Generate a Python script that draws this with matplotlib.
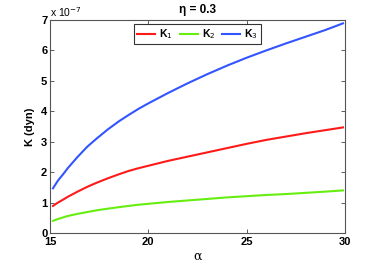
import matplotlib
matplotlib.use('Agg')
import matplotlib.pyplot as plt

# alpha values, K in units of 1e-7 dyn
alpha = [15.15, 15.4, 15.7, 15.9, 16.4, 16.9, 17.4, 17.95, 18.5, 19.0, 19.5,
         20.0, 21.0, 22.0, 23.0, 24.0, 25.0, 26.0, 27.0, 28.0, 29.0, 29.9]
k1 = [0.89, 1.00, 1.11, 1.19, 1.36, 1.52, 1.66, 1.80, 1.93, 2.04, 2.13,
      2.21, 2.37, 2.51, 2.65, 2.79, 2.93, 3.06, 3.17, 3.28, 3.38, 3.47]
k2 = [0.40, 0.46, 0.52, 0.56, 0.63, 0.69, 0.75, 0.80, 0.85, 0.89, 0.93,
      0.96, 1.02, 1.07, 1.12, 1.17, 1.21, 1.25, 1.28, 1.32, 1.36, 1.40]
k3 = [1.47, 1.72, 1.96, 2.13, 2.50, 2.84, 3.12, 3.41, 3.67, 3.88, 4.08,
      4.26, 4.60, 4.92, 5.22, 5.50, 5.76, 6.00, 6.23, 6.45, 6.67, 6.89]

plt.rcParams['font.family'] = ['Liberation Sans', 'DejaVu Sans']

fig = plt.figure(figsize=(3.82, 2.63), dpi=100)
ax = fig.add_axes([0.131, 0.114, 0.772, 0.81])

ax.plot(alpha, k1, color='#ff1a1a', lw=1.5, label='K$_1$')
ax.plot(alpha, k2, color='#66ee11', lw=1.5, label='K$_2$')
ax.plot(alpha, k3, color='#3355ff', lw=1.5, label='K$_3$')

ax.set_xlim(15, 30)
ax.set_ylim(0, 7)
ax.set_xticks([15, 20, 25, 30])
ax.set_yticks(range(8))
ax.tick_params(direction='in', length=3, width=0.6, top=True, right=True,
               labelsize=8, colors='#444444', labelcolor='black')
ax.tick_params(axis='x', pad=3)
ax.tick_params(axis='y', pad=2)
for lbl in ax.get_xticklabels() + ax.get_yticklabels():
    lbl.set_fontweight('bold')
for s in ax.spines.values():
    s.set_color('#555555')
    s.set_linewidth(0.8)

ax.set_xlabel('α', fontsize=9, labelpad=2, family=['DejaVu Serif'])
ax.set_ylabel('K (dyn)', fontsize=8, fontweight='bold', labelpad=4)
ax.set_title('η = 0.3', fontsize=8.5, fontweight='bold', pad=5)
ax.text(0.0, 1.005, r'x 10$^{-7}$', transform=ax.transAxes, fontsize=7.5,
        ha='left', va='bottom')

leg = ax.legend(loc='upper center', ncol=3, fontsize=7.5, frameon=True,
                fancybox=False, handlelength=1.7, handletextpad=0.4,
                columnspacing=0.7, borderpad=0.3, borderaxespad=0.4,
                bbox_to_anchor=(0.5, 1.0))
leg.get_frame().set_edgecolor('black')
leg.get_frame().set_linewidth(0.8)
for t in leg.get_texts():
    t.set_fontweight('bold')

fig.savefig('out.png', dpi=100)
